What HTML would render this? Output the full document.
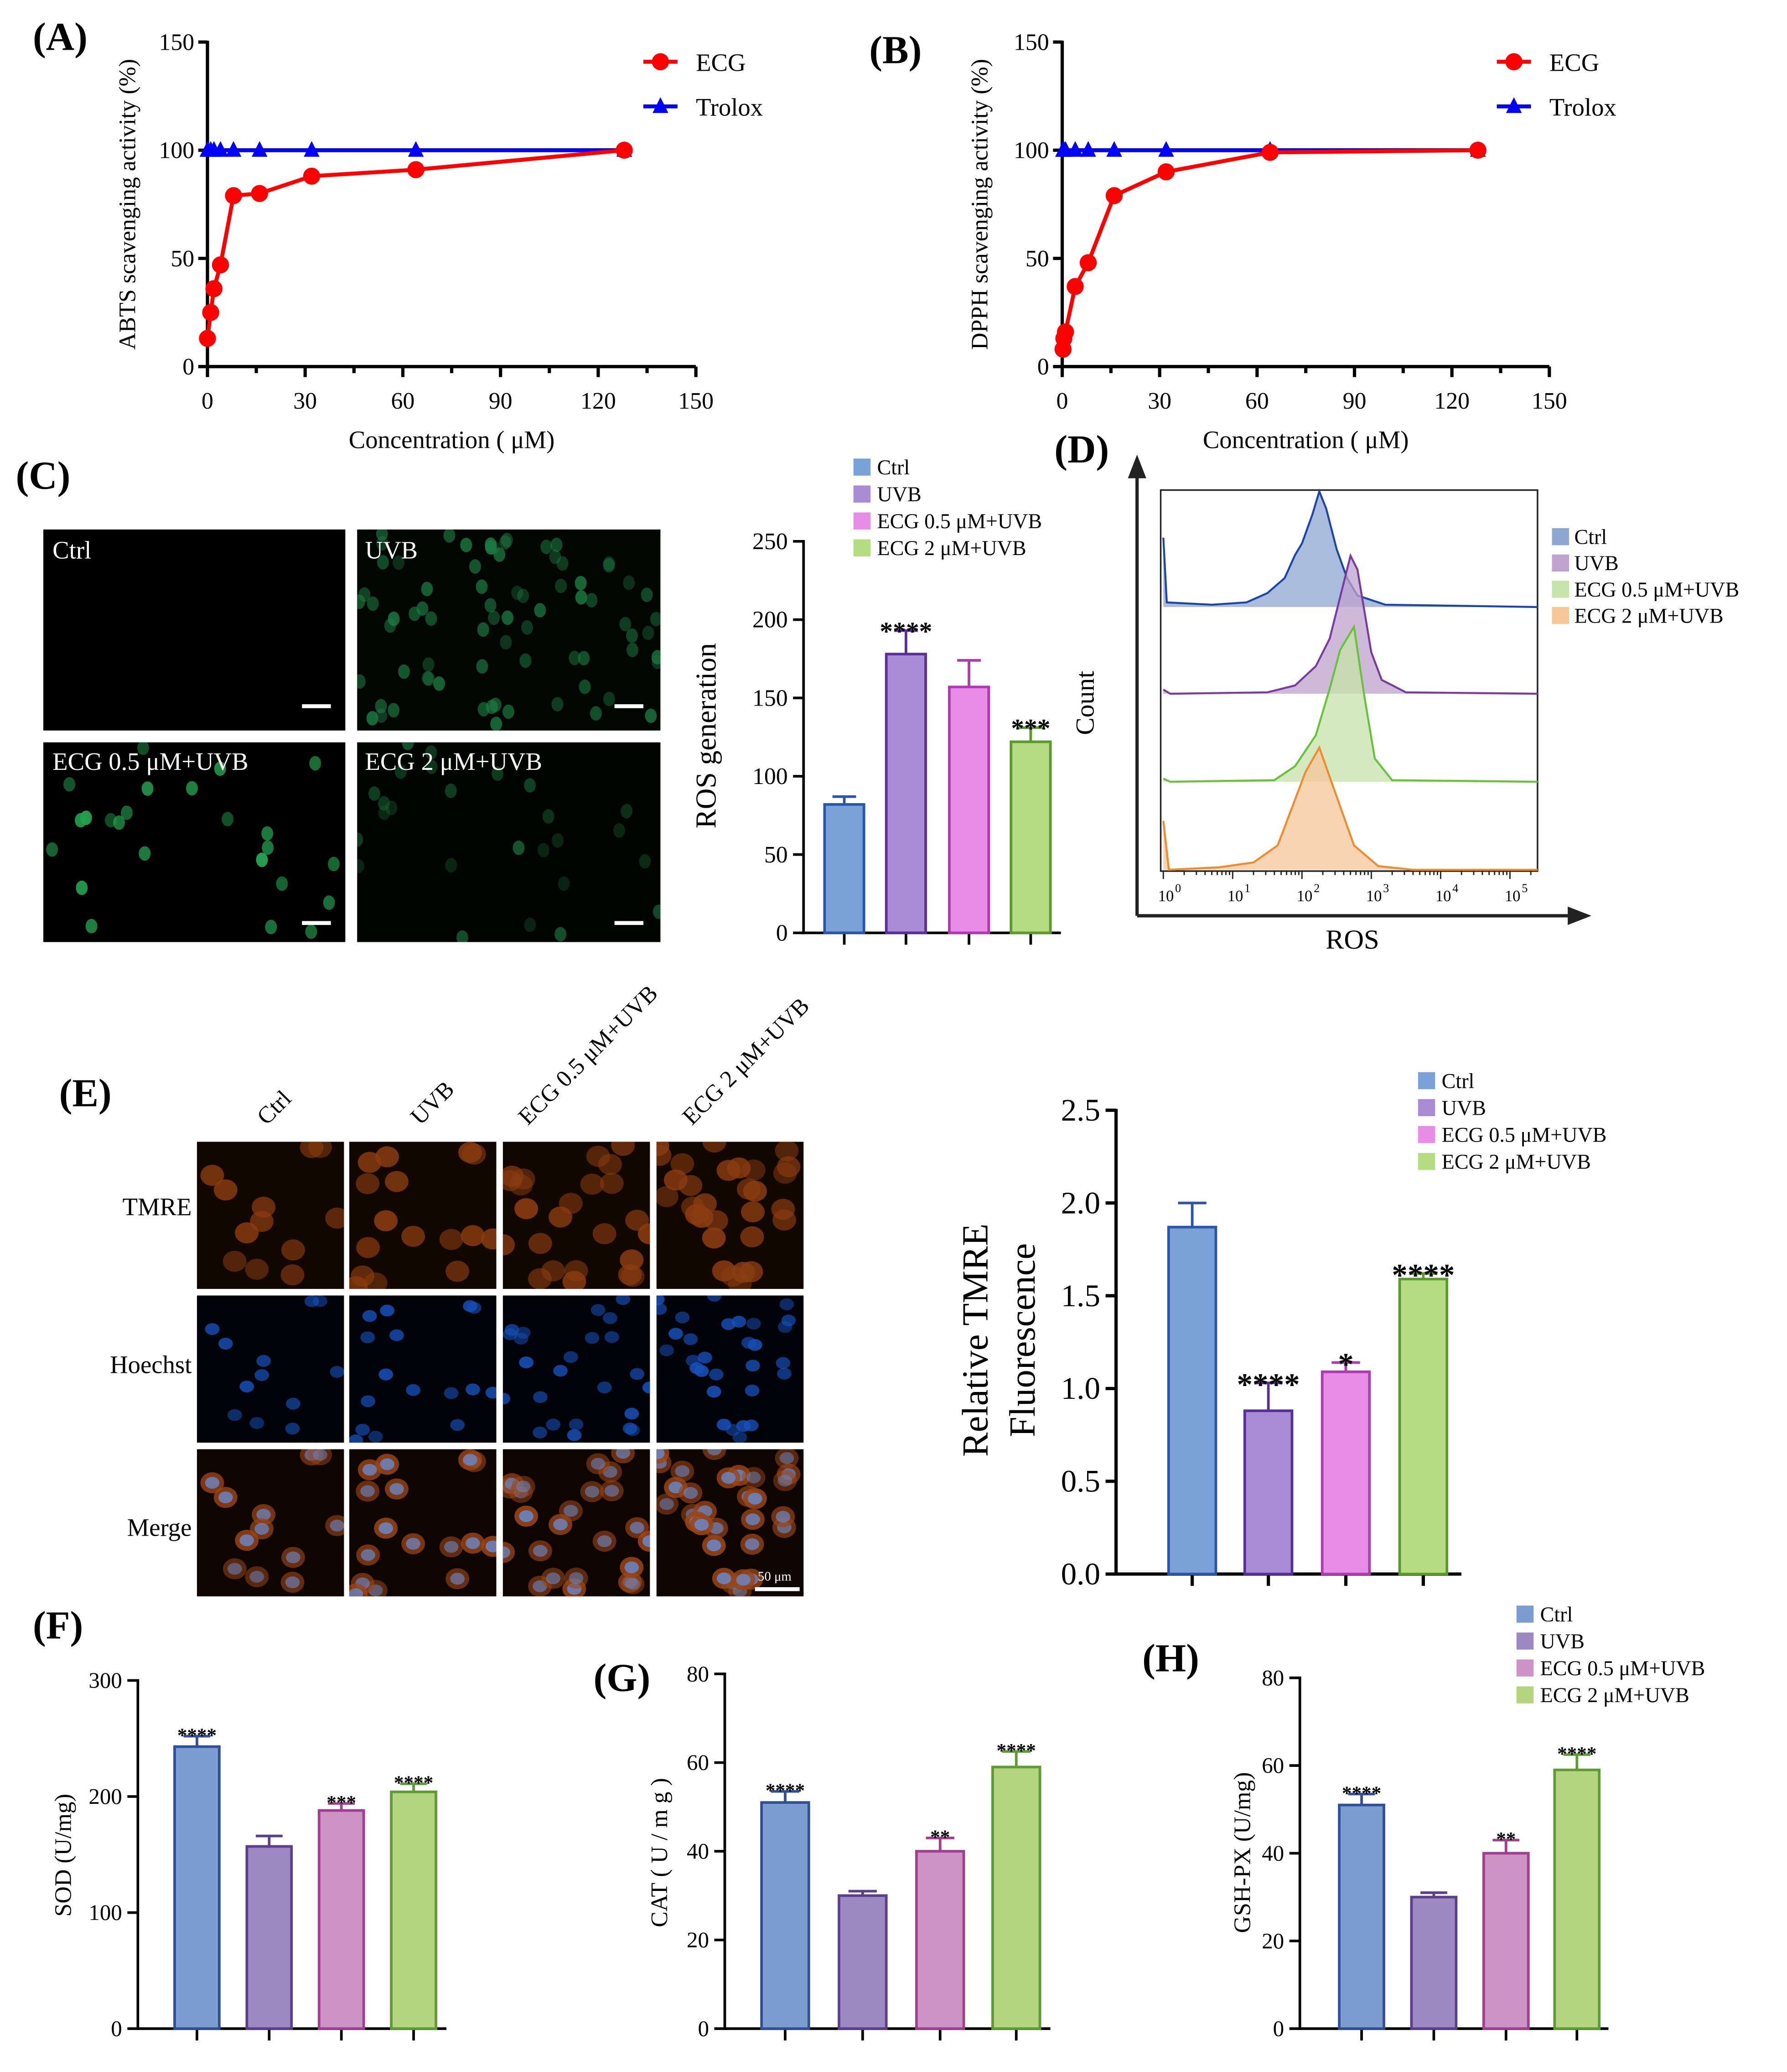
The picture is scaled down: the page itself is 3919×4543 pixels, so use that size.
<!DOCTYPE html>
<html><head><meta charset="utf-8"><style>
html,body{margin:0;padding:0;background:#fff;}
svg{display:block;font-family:"Liberation Serif",serif;}
</style></head><body>
<svg id="fig" xmlns="http://www.w3.org/2000/svg" width="3919" height="4543" viewBox="0 0 1361 1577" preserveAspectRatio="none"></svg>
<script>
// ---- Panel A/B data ----
const abtsConc = [0, 1, 2, 4, 8, 16, 32, 64, 128];
const abtsEcg = [13, 25, 36, 47, 79, 80, 88, 91, 100];
const abtsTrolox = [100, 100, 100, 100, 100, 100, 100, 100, 100];
const dpphConc = [0.25, 0.5, 1, 4, 8, 16, 32, 64, 128];
const dpphEcg = [8, 13, 16, 37, 48, 79, 90, 99, 100];
const dpphTrolox = [100, 100, 100, 100, 100, 100, 100, 100, 100];
const concTicks = [0, 30, 60, 90, 120, 150];
const pctTicks = [0, 50, 100, 150];
// ---- Panel C ----
const groups = ["Ctrl", "UVB", "ECG 0.5 μM+UVB", "ECG 2 μM+UVB"];
const rosValues = [82, 178, 157, 122];
const rosErrors = [5, 15, 17, 9];
const rosStars = ["", "****", "", "***"];
const rosTicks = [0, 50, 100, 150, 200, 250];
// ---- Panel D (log10 intensity, relative count) ----
const histCtrlX = [0, 0.05, 0.7, 1.2, 1.5, 1.75, 1.9, 2.0, 2.15, 2.25, 2.35, 2.5, 2.65, 2.8, 3.2, 5.4];
const histCtrlY = [60, 4, 2, 4, 12, 25, 45, 55, 80, 100, 85, 50, 25, 10, 2, 0];
const histUvbX = [0, 0.1, 1.5, 1.9, 2.2, 2.4, 2.55, 2.7, 2.8, 2.9, 3.0, 3.15, 3.5, 5.4];
const histUvbY = [3, 0, 1, 6, 20, 40, 70, 100, 90, 60, 30, 10, 1, 0];
const histE05X = [0, 0.1, 1.6, 1.9, 2.2, 2.4, 2.55, 2.75, 2.9, 3.05, 3.3, 5.4];
const histE05Y = [2, 0, 1, 10, 30, 60, 85, 100, 55, 15, 1, 0];
const histE2X = [0, 0.08, 0.8, 1.3, 1.65, 1.85, 2.05, 2.25, 2.5, 2.75, 3.1, 3.6, 5.4];
const histE2Y = [40, 0, 2, 6, 20, 50, 80, 100, 60, 20, 3, 0, 0];
const decadeTicks = [0, 1, 2, 3, 4, 5];
// ---- Panel E ----
const tmreValues = [1.87, 0.88, 1.09, 1.59];
const tmreErrors = [0.13, 0.15, 0.05, 0.03];
const tmreStars = ["", "****", "*", "****"];
const tmreTicks = [0, 0.5, 1.0, 1.5, 2.0, 2.5];
// ---- Panels F/G/H ----
const sodValues = [243, 157, 188, 204];
const sodErrors = [9, 9, 6, 7];
const sodStars = ["****", "", "***", "****"];
const sodTicks = [0, 100, 200, 300];
const catValues = [51, 30, 40, 59];
const catErrors = [2.5, 1, 3, 3.5];
const catStars = ["****", "", "**", "****"];
const catTicks = [0, 20, 40, 60, 80];
const gshValues = [51, 30, 40, 59];
const gshErrors = [2.5, 1, 3, 3.5];
const gshStars = ["****", "", "**", "****"];
const gshTicks = [0, 20, 40, 60, 80];

const NS = "http://www.w3.org/2000/svg";
const svg = document.getElementById("fig");
function el(tag, attrs, parent, text) {
  const e = document.createElementNS(NS, tag);
  for (const k in attrs) e.setAttribute(k, attrs[k]);
  if (text !== undefined) e.textContent = text;
  (parent || svg).appendChild(e);
  return e;
}
function label(x, y, txt, size, extra) {
  const t = el("text", Object.assign({x: x, y: y, "font-size": size, fill: "#000"}, extra || {}), svg, txt);
  
  
  return t;
}

// panel letters
[["(A)",25,38],["(B)",662,48],["(C)",12,372],["(D)",803,352],["(E)",45,842],["(F)",25,1247],["(G)",452,1287],["(H)",870,1272]].forEach(p=>{
  const t = label(p[1], p[2], p[0], 30, {"font-weight":"bold"});
  
});

// ---------- line charts ----------
function lineChart(x0, x1, y0, y1, concs, ecg, trol, ytitle, ytx, legX) {
  const sx = v => x0 + (v / 150) * (x1 - x0);
  const sy = v => y0 - (v / 150) * (y0 - y1);
  el("line", {x1: x0, y1: y0, x2: x0, y2: y1 - 1, stroke: "#000", "stroke-width": 2.5});
  el("line", {x1: x0 - 1, y1: y0, x2: x1, y2: y0, stroke: "#000", "stroke-width": 2.5});
  pctTicks.forEach(v => {
    el("line", {x1: x0 - 7, y1: sy(v), x2: x0, y2: sy(v), stroke: "#000", "stroke-width": 2.5});
    label(x0 - 10, sy(v) + 6, String(v), 18, {"text-anchor": "end"});
  });
  for (let v = 0; v <= 150; v += 15) {
    const major = v % 30 === 0;
    el("line", {x1: sx(v), y1: y0, x2: sx(v), y2: y0 + (major ? 8 : 5), stroke: "#000", "stroke-width": 2.5});
  }
  concTicks.forEach(v => label(sx(v), y0 + 32, String(v), 18, {"text-anchor": "middle"}));
  label((x0 + x1) / 2, y0 + 62, "Concentration (  μM)", 19, {"text-anchor": "middle"});
  label(ytx, (y0 + y1) / 2, ytitle, 18, {"text-anchor": "middle", transform: `rotate(-90 ${ytx} ${(y0 + y1) / 2})`});
  const tp = concs.map((c, i) => `${sx(c)},${sy(trol[i])}`).join(" ");
  const tl = el("polyline", {points: tp, fill: "none", stroke: "#0000ff", "stroke-width": 3});
  
  concs.forEach((c, i) => {
    const x = sx(c), y = sy(trol[i]);
    const m = el("polygon", {points: `${x},${y - 7} ${x - 6},${y + 5} ${x + 6},${y + 5}`, fill: "#0000ff"});
    
  });
  const ep = concs.map((c, i) => `${sx(c)},${sy(ecg[i])}`).join(" ");
  const ln = el("polyline", {points: ep, fill: "none", stroke: "#ff0000", "stroke-width": 3});
  
  concs.forEach((c, i) => {
    const m = el("circle", {cx: sx(c), cy: sy(ecg[i]), r: 6.5, fill: "#ff0000"});
    
  });
  el("line", {x1: legX, y1: 47, x2: legX + 26, y2: 47, stroke: "#ff0000", "stroke-width": 3});
  el("circle", {cx: legX + 13, cy: 47, r: 6.5, fill: "#ff0000"});
  label(legX + 40, 54, "ECG", 19);
  el("line", {x1: legX, y1: 81, x2: legX + 26, y2: 81, stroke: "#0000ff", "stroke-width": 3});
  el("polygon", {points: `${legX + 13},74 ${legX + 7},86 ${legX + 19},86`, fill: "#0000ff"});
  label(legX + 40, 88, "Trolox", 19);
}
lineChart(158, 530, 279, 32, abtsConc, abtsEcg, abtsTrolox, "ABTS scavenging activity (%)", 103, 490);
lineChart(809, 1180, 279, 32, dpphConc, dpphEcg, dpphTrolox, "DPPH scavenging activity (%)", 752, 1140);

// ---------- bar charts ----------
function barChart(o) {
  const sy = v => o.y0 - (v / o.ymax) * (o.y0 - o.ytop);
  el("line", {x1: o.x0, y1: o.y0 + 1, x2: o.x0, y2: o.ytop - 1, stroke: "#000", "stroke-width": o.lw});
  el("line", {x1: o.x0 - 1, y1: o.y0, x2: o.xend, y2: o.y0, stroke: "#000", "stroke-width": o.lw});
  o.ticks.forEach(v => {
    el("line", {x1: o.x0 - 8, y1: sy(v), x2: o.x0, y2: sy(v), stroke: "#000", "stroke-width": o.lw});
    label(o.x0 - 12, sy(v) + o.fs * 0.33, o.fmt ? o.fmt(v) : String(v), o.fs, {"text-anchor": "end"});
  });
  o.values.forEach((v, i) => {
    const cx = o.centers[i];
    const c = o.colors[i];
    el("line", {x1: cx, y1: o.y0, x2: cx, y2: o.y0 + 9, stroke: "#000", "stroke-width": o.lw});
    const top = sy(v + o.errors[i]);
    el("line", {x1: cx, y1: sy(v), x2: cx, y2: top, stroke: c[1], "stroke-width": 2});
    el("line", {x1: cx - o.bw * 0.3, y1: top, x2: cx + o.bw * 0.3, y2: top, stroke: c[1], "stroke-width": 2});
    const r = el("rect", {x: cx - o.bw / 2, y: sy(v), width: o.bw, height: o.y0 - sy(v), fill: c[0], stroke: c[1], "stroke-width": 2});
    
    
    if (o.stars[i]) label(cx, top - 4, o.stars[i], o.sfs, {"text-anchor": "middle", "font-weight": "bold", dy: o.sfs * 0.55});
  });
  if (o.ytitle) {
    o.ytitle.forEach((t, k) => {
      const x = o.ytx + k * o.ytgap;
      label(x, o.yty, t, o.yfs, {"text-anchor": "middle", transform: `rotate(-90 ${x} ${o.yty})`});
    });
  }
}
function legend(x, y0, gap, colors, fs) {
  groups.forEach((g, i) => {
    const s = el("rect", {x: x, y: y0 + i * gap - 6, width: 13, height: 13, fill: colors[i]});
    
    label(x + 18, y0 + i * gap + 6, g, fs);
  });
}
const vivid = [["#7aa0d8", "#2a55a8"], ["#a98bd6", "#5a2d9a"], ["#e88de6", "#b038b0"], ["#b5dc82", "#5a9a2a"]];
const muted = [["#7b9dcf", "#2f4f9a"], ["#9d88c2", "#5b3f8e"], ["#cc93c4", "#a03f8f"], ["#b3d580", "#5f9a35"]];

barChart({x0: 612, xend: 808, y0: 710, ytop: 412, ymax: 250, ticks: rosTicks, values: rosValues, errors: rosErrors, stars: rosStars,
  centers: [643, 690, 738, 785], bw: 30, colors: vivid, lw: 2, fs: 18, sfs: 20, ytitle: ["ROS generation"], ytx: 545, yty: 560, yfs: 22, ytgap: 0});
legend(650, 355, 20.5, vivid.map(c => c[0]), 16);

barChart({x0: 850, xend: 1113, y0: 1198, ytop: 845, ymax: 2.5, ticks: tmreTicks, values: tmreValues, errors: tmreErrors, stars: tmreStars,
  centers: [908, 966, 1025, 1084], bw: 36, colors: vivid, lw: 2.5, fs: 24, sfs: 24, fmt: v => v.toFixed(1),
  ytitle: ["Relative TMRE", "Fluorescence"], ytx: 752, yty: 1020, yfs: 28, ytgap: 36});
legend(1080, 822, 20.5, vivid.map(c => c[0]), 16);

barChart({x0: 105, xend: 340, y0: 1544, ytop: 1279, ymax: 300, ticks: sodTicks, values: sodValues, errors: sodErrors, stars: sodStars,
  centers: [150, 205, 260, 315], bw: 34, colors: muted, lw: 2, fs: 17, sfs: 15, ytitle: ["SOD (U/mg)"], ytx: 54, yty: 1412, yfs: 18, ytgap: 0});
barChart({x0: 552, xend: 800, y0: 1544, ytop: 1274, ymax: 80, ticks: catTicks, values: catValues, errors: catErrors, stars: catStars,
  centers: [598, 657, 716, 774], bw: 36, colors: muted, lw: 2, fs: 17, sfs: 15, ytitle: ["CAT ( U / m g )"], ytx: 508, yty: 1410, yfs: 18, ytgap: 0});
barChart({x0: 990, xend: 1225, y0: 1544, ytop: 1277, ymax: 80, ticks: gshTicks, values: gshValues, errors: gshErrors, stars: gshStars,
  centers: [1037, 1092, 1147, 1201], bw: 34, colors: muted, lw: 2, fs: 17, sfs: 15, ytitle: ["GSH-PX (U/mg)"], ytx: 952, yty: 1410, yfs: 18, ytgap: 0});
legend(1155, 1228, 20.5, muted.map(c => c[0]), 16);

// ---------- microscopy images ----------
let seed = 7;
function rnd() { seed = (seed * 9301 + 49297) % 233280; return seed / 233280; }
function micro(x, y, w, h, bg, n, cols, name, opMin, opRange) {
  const g = el("g", {});
  
  
  el("rect", {x: x, y: y, width: w, height: h, fill: bg}, g);
  const cp = el("clipPath", {id: "c" + name}, g);
  el("rect", {x: x, y: y, width: w, height: h}, cp);
  const cg = el("g", {"clip-path": "url(#c" + name + ")"}, g);
  for (let i = 0; i < n; i++) {
    const cx = x + rnd() * w, cy = y + rnd() * h;
    const op = opMin + rnd() * opRange;
    cols.forEach(c => el("ellipse", {cx: cx, cy: cy, rx: c[1], ry: c[2], fill: c[0], opacity: op}, cg));
  }
  return g;
}
micro(33, 403, 230, 153, "#000", 0, [], "img-ctrl", 1, 0);
micro(272, 403, 231, 153, "#020602", 75, [["#1d7a42", 4.5, 5.5]], "img-uvb", 0.35, 0.5);
micro(33, 565, 230, 152, "#000", 24, [["#25a050", 4.5, 5.5]], "img-ecg05", 0.45, 0.55);
micro(272, 565, 231, 152, "#010401", 26, [["#1a6b38", 4.5, 5.5]], "img-ecg2", 0.3, 0.5);
[["Ctrl",40,425],["UVB",278,425],["ECG 0.5 μM+UVB",40,586],["ECG 2 μM+UVB",278,586]].forEach(p => label(p[1], p[2], p[0], 19, {fill: "#fff"}));
[[230,536],[468,536],[230,701],[468,701]].forEach(p => el("rect", {x: p[0], y: p[1], width: 22, height: 3, fill: "#fff"}));

// ---------- Panel D histograms ----------
const lx = v => 886 + v * 52.8;
el("line", {x1: 866, y1: 697, x2: 866, y2: 358, stroke: "#222", "stroke-width": 2.5});
el("polygon", {points: "866,346 859,364 873,364", fill: "#222"});
el("line", {x1: 866, y1: 697, x2: 1198, y2: 697, stroke: "#222", "stroke-width": 2.5});
el("polygon", {points: "1212,697 1194,690 1194,704", fill: "#222"});
el("rect", {x: 884, y: 373, width: 287, height: 290, fill: "none", stroke: "#222", "stroke-width": 1.2});
function hist(xs, ys, base, hmax, fill, stroke, name) {
  const pts = xs.map((v, i) => `${lx(v)},${base - ys[i] / 100 * hmax}`);
  const a = el("polygon", {points: `${lx(0)},${base} ` + pts.join(" ") + ` ${1171},${base}`, fill: fill, opacity: 0.75});
  
  el("polyline", {points: pts.join(" ") + ` 1171,${base}`, fill: "none", stroke: stroke, "stroke-width": 1.5});
}
hist(histCtrlX, histCtrlY, 462, 88, "#8ea6d2", "#1c45a8", "hist-ctrl");
hist(histUvbX, histUvbY, 528, 105, "#bfa2cf", "#7a3b9e", "hist-uvb");
hist(histE05X, histE05Y, 595, 118, "#c6e3a8", "#66c23a", "hist-ecg05");
hist(histE2X, histE2Y, 662, 93, "#f6c699", "#f08a2a", "hist-ecg2");
for (let d = 0; d < 6; d++) {
  for (let k = 1; k <= 9; k++) {
    const v = d + Math.log10(k);
    if (lx(v) > 1171) break;
    el("line", {x1: lx(v), y1: 663, x2: lx(v), y2: 663 + (k === 1 ? 6 : 3), stroke: "#222", "stroke-width": 1});
  }
}
decadeTicks.forEach(d => {
  label(lx(d) + 2, 686, "10", 12, {"text-anchor": "middle"});
  label(lx(d) + 9, 679, String(d), 9);
});
label(833, 535, "Count", 20, {"text-anchor": "middle", transform: "rotate(-90 833 535)"});
label(1030, 722, "ROS", 21, {"text-anchor": "middle"});
["#8ea6d2", "#bfa2cf", "#c6e3a8", "#f6c699"].forEach((c, i) => {
  el("rect", {x: 1182, y: 402 + i * 20, width: 13, height: 13, fill: c});
  label(1199, 414 + i * 20, groups[i], 16);
});

// ---------- Panel E microscopy ----------
const colsX = [150, 266, 383, 500], rowsY = [869, 986, 1103];
const rowBg = ["#120701", "#010309", "#0e0501"];
colsX.forEach((cx, c) => {
  rowsY.forEach((ry, r) => {
    seed = 11 + c * 5;
    const n = [12, 16, 24, 30][c];
    let cols;
    if (r === 0) cols = [["#8a3c10", 9, 8]];
    else if (r === 1) cols = [["#1750b8", 5.5, 4.5]];
    else cols = [["#9a4516", 9, 8], ["#6a86c4", 5.5, 4.5]];
    micro(cx, ry, 112, 112, rowBg[r], n, cols, `tmre-img-${r}-${c}`, 0.5, 0.4);
  });
});
["Ctrl", "UVB", "ECG 0.5 μM+UVB", "ECG 2 μM+UVB"].forEach((t, i) => {
  const x = [203, 320, 402, 527][i], y = 857;
  label(x, y, t, 18, {transform: `rotate(-45 ${x} ${y})`});
});
label(146, 925, "TMRE", 19, {"text-anchor": "end"});
label(146, 1045, "Hoechst", 19, {"text-anchor": "end"});
label(146, 1169, "Merge", 19, {"text-anchor": "end"});
el("rect", {x: 575, y: 1208, width: 34, height: 3, fill: "#fff"});
label(590, 1203, "50 μm", 10, {fill: "#fff", "text-anchor": "middle"});
</script>
</body></html>
